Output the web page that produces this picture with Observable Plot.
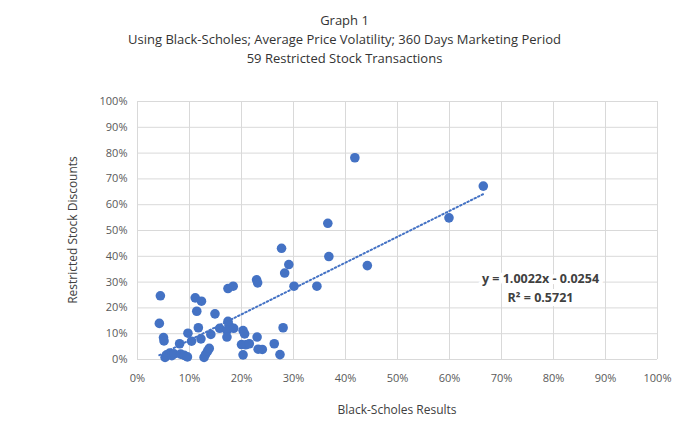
<!DOCTYPE html>
<html>
<head>
<meta charset="utf-8">
<script src="https://cdn.jsdelivr.net/npm/d3@7"></script>
<script src="https://cdn.jsdelivr.net/npm/@observablehq/plot@0.6"></script>
<style>
  html, body { margin: 0; padding: 0; background: #fff; }
  #wrap { position: relative; width: 689px; height: 431px; overflow: hidden; font-family: "Open Sans", "Noto Sans", sans-serif; color: #404040; }
  #title { position: absolute; top: 11px; left: 0; width: 689px; text-align: center; font-size: 13px; line-height: 19px; color: #333; }
  #chart { position: absolute; top: 70px; left: 0; }
  .axtitle { position: absolute; font-size: 12px; color: #404040; white-space: nowrap; }
  #xt { top: 401px; left: 137px; width: 520px; text-align: center; }
  #yt { left: 72px; top: 230px; transform: translate(-50%, -50%) rotate(-90deg); }
</style>
</head>
<body>
<div id="wrap">
  <div id="title">Graph 1<br>Using Black-Scholes; Average Price Volatility; 360 Days Marketing Period<br>59 Restricted Stock Transactions</div>
  <div id="chart"></div>
  <div class="axtitle" id="xt">Black-Scholes Results</div>
  <div class="axtitle" id="yt">Restricted Stock Discounts</div>
</div>
<script>
// Black-Scholes results (%) for each transaction
const blackScholes = [4.4, 4.2, 5.0, 5.1, 5.3, 5.6, 6.2, 6.6, 7.0, 8.1,
  8.3, 9.0, 9.6, 9.7, 10.4, 11.1, 12.3, 11.4, 11.7, 12.2,
  12.8, 13.1, 13.5, 13.8, 14.1, 14.9, 15.8, 17.4, 18.4, 17.4,
  17.6, 17.2, 17.2, 18.5, 20.3, 20.6, 20.0, 20.8, 21.5, 20.3,
  22.9, 23.1, 23.0, 23.2, 24.0, 26.3, 27.4, 27.7, 28.0, 29.1,
  28.3, 30.1, 34.5, 36.6, 36.8, 41.8, 44.2, 59.9, 66.5];
// Restricted stock discounts (%)
const discounts = [24.7, 14.0, 8.5, 7.2, 0.8, 1.8, 2.5, 1.5, 2.2, 6.1,
  2.1, 1.6, 1.0, 10.2, 7.1, 23.9, 22.6, 18.7, 12.3, 8.0,
  0.8, 2.0, 3.3, 4.3, 9.7, 17.7, 12.1, 27.5, 28.4, 14.8,
  13.2, 11.2, 8.7, 12.1, 11.2, 9.9, 5.8, 5.7, 6.1, 1.8,
  30.9, 29.7, 8.7, 4.0, 3.9, 6.1, 1.9, 43.1, 12.3, 36.8,
  33.5, 28.4, 28.4, 52.8, 39.9, 78.2, 36.4, 54.9, 67.2];
const ticks = [0, 10, 20, 30, 40, 50, 60, 70, 80, 90, 100];
const slope = 1.0022;
const intercept = -2.54; // in percent units
const eqLines = ["y = 1.0022x - 0.0254", "R² = 0.5721"];

const points = blackScholes.map((x, i) => ({x, y: discounts[i]}));
const xmin = d3.min(blackScholes), xmax = d3.max(blackScholes);
const trend = [xmin, xmax].map(x => ({x, y: slope * x + intercept}));

const blue = "#4472c4";
const chart = Plot.plot({
  width: 689, height: 361,
  marginLeft: 137, marginRight: 32, marginTop: 31, marginBottom: 72,
  style: {fontFamily: "'Open Sans', 'Noto Sans', sans-serif", fontSize: "11px", color: "#595959", background: "transparent"},
  x: {domain: [0, 100]},
  y: {domain: [0, 100]},
  marks: [
    Plot.gridX(ticks, {stroke: "#d9d9d9", strokeOpacity: 1, strokeWidth: 1}),
    Plot.gridY(ticks, {stroke: "#d9d9d9", strokeOpacity: 1, strokeWidth: 1}),
    Plot.axisX({ticks, tickSize: 0, tickPadding: 15, tickFormat: d => d + "%", label: null, fill: "#595959"}),
    Plot.axisY({ticks, tickSize: 0, tickPadding: 10, tickFormat: d => d + "%", label: null, fill: "#595959"}),
    Plot.line(trend, {x: "x", y: "y", stroke: blue, strokeWidth: 2, strokeDasharray: "1.5,2.5"}),
    Plot.dot(points, {x: "x", y: "y", r: 4.8, fill: blue, stroke: "none"}),
    Plot.text([eqLines.join("\n")], {x: 77.5, y: 28.2, text: d => d, fontSize: 12.5, fontWeight: "bold", fill: "#404040", lineHeight: 1.5,
      stroke: "white", strokeWidth: 8, paintOrder: "stroke"})
  ]
});
document.getElementById("chart").appendChild(chart);
</script>
</body>
</html>
